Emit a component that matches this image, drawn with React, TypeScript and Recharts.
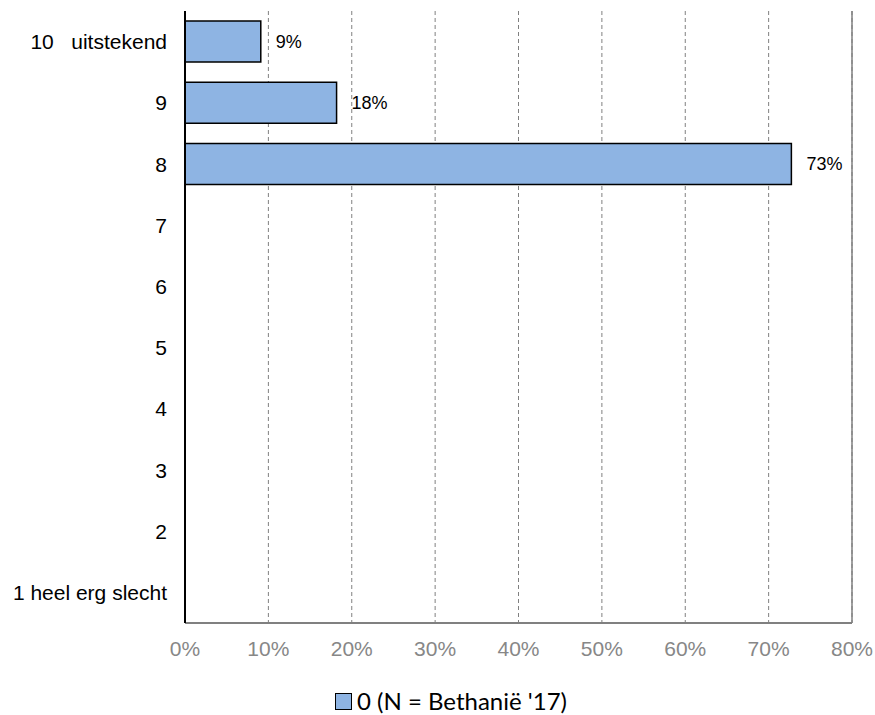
import React from 'react';
import {
  BarChart,
  Bar,
  XAxis,
  YAxis,
  CartesianGrid,
  Legend,
  LabelList,
  ReferenceLine,
} from 'recharts';

const categories = [
  '10   uitstekend',
  '9',
  '8',
  '7',
  '6',
  '5',
  '4',
  '3',
  '2',
  '1 heel erg slecht',
];
const shares = [9.09, 18.18, 72.73, 0, 0, 0, 0, 0, 0, 0];
const xTicks = [0, 10, 20, 30, 40, 50, 60, 70, 80];
const seriesName = "0 (N = Bethanië '17)";

const data = categories.map((label, i) => ({ label, value: shares[i] }));

const FONT = '"Liberation Sans", Arial, sans-serif';

function YTick({ x, y, payload }: any) {
  return (
    <text
      x={x - 18}
      y={y}
      textAnchor="end"
      dominantBaseline="central"
      fontFamily={FONT}
      fontSize={21}
      fill="#000"
      style={{ whiteSpace: 'pre' }}
    >
      {payload.value}
    </text>
  );
}

function XTick({ x, y, payload }: any) {
  return (
    <text
      x={x}
      y={y + 25}
      textAnchor="middle"
      dominantBaseline="central"
      fontFamily={FONT}
      fontSize={21}
      fill="#878787"
    >
      {payload.value}%
    </text>
  );
}

function LegendBox() {
  return (
    <div style={{ height: 28, display: 'flex', alignItems: 'center', marginLeft: 335 }}>
      <span
        style={{
          width: 15,
          height: 15,
          background: '#8EB4E3',
          border: '1px solid #000',
          display: 'inline-block',
          marginRight: 5,
        }}
      />
      <span style={{ fontFamily: 'Lato, "Noto Sans", sans-serif', fontSize: 24, color: '#000', lineHeight: '28px' }}>
        {seriesName}
      </span>
    </div>
  );
}

export default function App() {
  return (
    <div style={{ position: 'absolute', left: 0, top: 0, background: '#fff' }}>
      <BarChart
        width={875}
        height={715}
        data={data}
        layout="vertical"
        margin={{ top: 11, right: 23, left: 0, bottom: 0 }}
        barCategoryGap="16.5%"
      >
        <CartesianGrid horizontal={false} stroke="#808080" strokeDasharray="4 3" />
        <XAxis
          type="number"
          domain={[0, 80]}
          ticks={xTicks}
          tick={<XTick />}
          tickLine={false}
          tickSize={0}
          tickMargin={0}
          height={64}
          axisLine={{ stroke: '#808080', strokeWidth: 2 }}
        />
        <XAxis
          xAxisId="top"
          orientation="top"
          type="number"
          domain={[0, 80]}
          ticks={xTicks}
          tick={false}
          tickLine={false}
          height={0}
          axisLine={{ stroke: '#808080', strokeWidth: 1.5 }}
        />
        <YAxis
          type="category"
          dataKey="label"
          width={185}
          tick={<YTick />}
          tickLine={false}
          tickSize={0}
          tickMargin={0}
          interval={0}
          axisLine={{ stroke: '#000', strokeWidth: 2 }}
        />
        <ReferenceLine x={80} stroke="#808080" strokeWidth={1.5} />
        <Legend verticalAlign="bottom" content={<LegendBox />} wrapperStyle={{ left: 0, width: 875 }} />
        <Bar
          dataKey="value"
          name={seriesName}
          fill="#8EB4E3"
          stroke="#000"
          strokeWidth={1.5}
          isAnimationActive={false}
        >
          <LabelList
            dataKey="value"
            position="right"
            offset={15}
            fontFamily={FONT}
            fontSize={18}
            fill="#000"
            formatter={(v: any) => (v > 0 ? `${Math.round(v)}%` : '')}
          />
        </Bar>
      </BarChart>
    </div>
  );
}
